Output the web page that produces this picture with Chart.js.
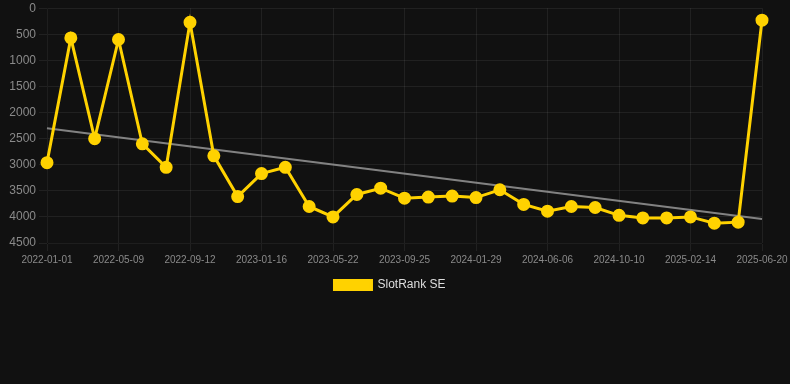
<!DOCTYPE html>
<html>
<head>
<meta charset="utf-8">
<script src="https://cdn.jsdelivr.net/npm/chart.js@4"></script>
<style>
  html, body { margin: 0; padding: 0; background: #111111; overflow: hidden; }
  #wrap { width: 790px; height: 386px; margin-top: -2px; }
</style>
</head>
<body>
<div id="wrap"><canvas id="chart"></canvas></div>
<script>
const labels = [
  "2022-01-01", "2022-02-12", "2022-03-27", "2022-05-09", "2022-06-20", "2022-08-01",
  "2022-09-12", "2022-10-24", "2022-12-05", "2023-01-16", "2023-02-27", "2023-04-10",
  "2023-05-22", "2023-07-03", "2023-08-14", "2023-09-25", "2023-11-06", "2023-12-18",
  "2024-01-29", "2024-03-12", "2024-04-24", "2024-06-06", "2024-07-18", "2024-08-29",
  "2024-10-10", "2024-11-21", "2025-01-02", "2025-02-14", "2025-03-28", "2025-05-09",
  "2025-06-20"
];
const rankValues = [
  2960, 570, 2500, 600, 2600, 3050,
  270, 2830, 3610, 3170, 3050, 3800,
  4000, 3570, 3450, 3640, 3620, 3600,
  3630, 3480, 3760, 3890, 3800, 3820,
  3970, 4020, 4020, 4000, 4120, 4100,
  230
];
// trend line end points only, the rest left empty
const trendValues = labels.map(() => null);
trendValues[0] = 2300;
trendValues[labels.length - 1] = 4040;

const yellow = "#ffd200";
const gridColor = "rgba(255,255,255,0.07)";

let chart = new Chart(document.getElementById("chart").getContext("2d"), {
  type: "line",
  data: {
    labels: labels,
    datasets: [
      {
        label: "SlotRank SE",
        data: rankValues,
        borderColor: yellow,
        backgroundColor: yellow,
        borderWidth: 3,
        pointRadius: 5,
        pointHoverRadius: 6,
        tension: 0,
      },
      {
        label: "trend",
        data: trendValues,
        spanGaps: true,
        borderColor: "rgba(150,150,150,0.85)",
        borderWidth: 2,
        pointRadius: 0,
      },
    ],
  },
  options: {
    responsive: true,
    maintainAspectRatio: false,
    animation: false,
    layout: { padding: { top: 0, right: 10, bottom: 83, left: 0 } },
    plugins: {
      legend: {
        position: "bottom",
        labels: {
          color: "#dddddd",
          boxWidth: 37,
          boxHeight: 9,
          font: { size: 12, family: "Arial, 'Liberation Sans', sans-serif" },
          filter: (item) => item.datasetIndex === 0,
        },
      },
      tooltip: { enabled: false },
    },
    scales: {
      x: {
        offset: false,
        afterFit: (scale) => {
          scale.paddingRight = 28;
        },
        grid: {
          color: (ctx) => (ctx.index % 3 === 0 ? gridColor : "transparent"),
        },
        ticks: {
          autoSkip: false,
          maxRotation: 0,
          color: "#8a8a8a",
          font: { size: 10, family: "Arial, 'Liberation Sans', sans-serif" },
          callback: function (value, index) {
            return index % 3 === 0 ? labels[index] : "";
          },
        },
      },
      y: {
        reverse: true,
        min: 0,
        max: 4500,
        afterFit: (scale) => {
          scale.width = 47;
        },
        grid: { color: gridColor },
        ticks: {
          stepSize: 500,
          color: "#8a8a8a",
          font: { size: 12, family: "Arial, 'Liberation Sans', sans-serif" },
          callback: (value) => String(value),
        },
      },
    },
  },
});
</script>
</body>
</html>
